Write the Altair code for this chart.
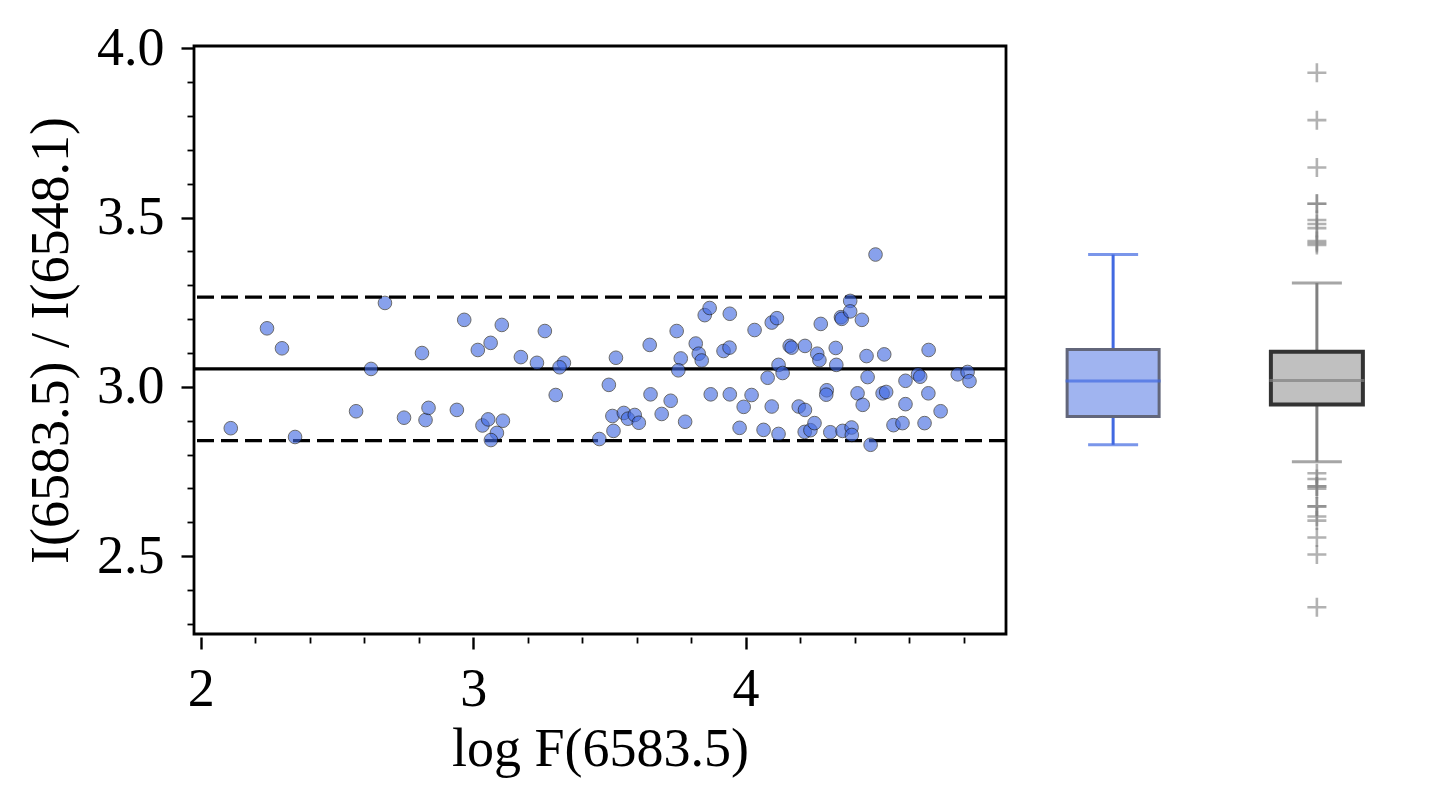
import altair as alt
import pandas as pd

# ---------------- data ----------------
log_flux = [
    2.110, 2.243, 2.298, 2.346, 2.570, 2.625, 2.676, 2.746, 2.812, 2.825, 2.836, 2.940, 2.967,
    3.017, 3.064, 3.105, 3.034, 3.055, 3.087, 3.065, 3.109, 3.175, 3.234, 3.263, 3.303, 3.333,
    3.317, 3.498, 3.524, 3.463, 3.511, 3.515, 3.553, 3.568, 3.593, 3.608, 3.648, 3.651, 3.692,
    3.725, 3.747, 3.762, 3.753, 3.778, 3.817, 3.828, 3.839, 3.850, 3.868, 3.872, 3.919, 3.941,
    3.942, 3.942,
    3.978, 3.993, 4.022, 4.033, 4.066, 4.081, 4.096, 4.096, 4.115, 4.121, 4.136, 4.121, 4.162,
    4.169, 4.195, 4.218, 4.218, 4.217, 4.238, 4.253, 4.263, 4.271, 4.276, 4.298, 4.296, 4.311,
    4.331, 4.333, 4.350, 4.353, 4.356, 4.384, 4.384, 4.389, 4.390, 4.411, 4.427, 4.430, 4.444,
    4.448, 4.459, 4.477, 4.503, 4.516, 4.509, 4.543, 4.576, 4.587, 4.587, 4.633, 4.641, 4.657,
    4.671, 4.672, 4.716, 4.779, 4.815, 4.822,
]
ratio = [
    2.878, 3.173, 3.114, 2.852, 2.928, 3.053, 3.248, 2.909, 3.100, 2.902, 2.938, 2.932, 3.198,
    3.109, 3.130, 3.183, 2.886, 2.904, 2.864, 2.843, 2.900, 3.088, 3.071, 3.165, 2.976, 3.071,
    3.058, 3.006, 3.086, 2.846, 2.914, 2.870, 2.923, 2.906, 2.917, 2.894, 3.124, 2.978, 2.920,
    2.959, 3.165, 3.084, 3.049, 2.897, 3.128, 3.098, 3.078, 3.212, 3.233, 2.978, 3.106, 3.116,
    3.216, 2.978,
    2.879, 2.941, 2.976, 3.168, 2.873, 3.027, 2.942, 3.190, 3.203, 3.065, 3.041, 2.861, 3.121,
    3.116, 2.942, 3.121, 2.932, 2.867, 2.872, 2.893, 3.098, 3.079, 3.186, 2.990, 2.977, 2.866,
    3.115, 3.065, 3.206, 3.201, 2.870, 3.254, 3.223, 2.880, 2.858, 2.981, 3.198, 2.947, 3.091,
    3.029, 2.829, 3.391, 2.981, 2.985, 3.096, 2.887, 2.893, 2.949, 3.018, 3.037, 3.030, 2.893,
    2.981, 3.109, 2.928, 3.037, 3.044, 3.017,
]

mean_ratio = [3.053]
band_ratio = [3.265, 2.841]

# second (grey) box plot: summary values and outliers
gray_stat_names = ["lo", "q1", "med", "q3", "hi"]
gray_stat_values = [2.779, 2.948, 3.019, 3.104, 3.307]
gray_outliers = [
    3.928, 3.788, 3.648, 3.541, 3.541, 3.493, 3.481, 3.469, 3.431, 3.425, 3.419,
    2.745, 2.728, 2.706, 2.706, 2.699, 2.647, 2.647, 2.617, 2.605, 2.555, 2.505, 2.349,
]

box_groups = ["blue", "gray"]

x_tick_values = [2.0, 2.2, 2.4, 2.6, 2.8, 3.0, 3.2, 3.4, 3.6, 3.8, 4.0, 4.2, 4.4, 4.6, 4.8]
y_tick_values = [2.3, 2.4, 2.5, 2.6, 2.7, 2.8, 2.9, 3.0, 3.1, 3.2, 3.3, 3.4, 3.5,
                 3.6, 3.7, 3.8, 3.9, 4.0]

X_DOMAIN = [1.975, 4.956]
Y_DOMAIN = [2.27, 4.007]

FONT = "Liberation Serif"
BLUE = "#4169E1"

# ---------------- main scatter panel ----------------
scatter_df = pd.DataFrame({"x": log_flux, "y": ratio})

x_major = "abs(datum.value - round(datum.value)) < 0.001"
y_major = "abs(datum.value * 2 - round(datum.value * 2)) < 0.001"

x_axis = alt.Axis(
    values=x_tick_values,
    title="log F(6583.5)",
    domain=False,
    grid=False,
    offset=3,
    labelExpr=f"{x_major} ? format(datum.value, 'd') : ''",
    labelOverlap=False,
    labelFlush=False,
    labelFont=FONT,
    labelFontSize=54,
    labelColor="black",
    labelPadding=13,
    tickColor="black",
    tickSize={"condition": {"test": x_major, "value": 12}, "value": 6},
    tickWidth={"condition": {"test": x_major, "value": 2.4}, "value": 1.8},
    titleFont=FONT,
    titleFontSize=54,
    titleFontWeight="normal",
    titleColor="black",
    titlePadding=6,
)
y_axis = alt.Axis(
    values=y_tick_values,
    title="I(6583.5) / I(6548.1)",
    domain=False,
    grid=False,
    labelExpr=f"{y_major} ? format(datum.value, '.1f') : ''",
    labelOverlap=False,
    labelFlush=False,
    labelFont=FONT,
    labelFontSize=54,
    labelColor="black",
    labelPadding=17,
    tickColor="black",
    tickSize={"condition": {"test": y_major, "value": 13}, "value": 7},
    tickWidth={"condition": {"test": y_major, "value": 2.4}, "value": 1.8},
    titleFont=FONT,
    titleFontSize=54,
    titleFontWeight="normal",
    titleColor="black",
    titlePadding=18,
)

x_scale = alt.Scale(domain=X_DOMAIN, nice=False, zero=False)
y_scale = alt.Scale(domain=Y_DOMAIN, nice=False, zero=False)

points = alt.Chart(scatter_df).mark_point(
    shape="circle", filled=True, fill=BLUE, stroke="#111111", strokeWidth=1.0,
    opacity=0.62, size=185,
).encode(
    x=alt.X("x:Q", scale=x_scale, axis=x_axis),
    y=alt.Y("y:Q", scale=y_scale, axis=y_axis),
)

solid_line = alt.Chart(pd.DataFrame({"y": mean_ratio})).mark_rule(
    color="black", strokeWidth=3.3
).encode(y=alt.Y("y:Q", scale=y_scale, axis=y_axis))

dashed_lines = alt.Chart(pd.DataFrame({"y": band_ratio})).mark_rule(
    color="black", strokeWidth=3.3, strokeDash=[17, 7]
).encode(y=alt.Y("y:Q", scale=y_scale, axis=y_axis))

main = alt.layer(solid_line, dashed_lines, points).properties(
    width=812, height=588,
    view=alt.ViewBackground(stroke="black", strokeWidth=2.8),
)

# ---------------- box plot panel ----------------
bx = alt.X("group:N", scale=alt.Scale(type="point", domain=box_groups, padding=0.457), axis=None)
by_scale = alt.Scale(domain=Y_DOMAIN, nice=False, zero=False)


def box_layers(base, fill, stroke, stroke_w, median_color, whisker_color):
    lower = base.mark_rule(color=whisker_color, strokeWidth=3).encode(
        x=bx, y=alt.Y("lo:Q", scale=by_scale, axis=None), y2="q1:Q")
    upper = base.mark_rule(color=whisker_color, strokeWidth=3).encode(
        x=bx, y=alt.Y("q3:Q", scale=by_scale, axis=None), y2="hi:Q")
    cap_lo = base.mark_tick(color=whisker_color, size=50, thickness=3, orient="horizontal").encode(
        x=bx, y=alt.Y("lo:Q", scale=by_scale, axis=None))
    cap_hi = base.mark_tick(color=whisker_color, size=50, thickness=3, orient="horizontal").encode(
        x=bx, y=alt.Y("hi:Q", scale=by_scale, axis=None))
    box = base.mark_bar(size=92, fill=fill, stroke=stroke, strokeWidth=stroke_w).encode(
        x=bx, y=alt.Y("q1:Q", scale=by_scale, axis=None), y2="q3:Q")
    med = base.mark_tick(color=median_color, size=95, thickness=3, orient="horizontal").encode(
        x=bx, y=alt.Y("med:Q", scale=by_scale, axis=None))
    return [lower, upper, cap_lo, cap_hi, box, med]


blue_base = alt.Chart(scatter_df).transform_aggregate(
    lo="min(y)", q1="q1(y)", med="median(y)", q3="q3(y)", hi="max(y)"
).transform_calculate(group="'blue'")

gray_df = pd.DataFrame({name: [val] for name, val in zip(gray_stat_names, gray_stat_values)})
gray_df["group"] = "gray"
gray_base = alt.Chart(gray_df)

outlier_df = pd.DataFrame({"y": gray_outliers, "group": "gray"})
outliers = alt.Chart(outlier_df).mark_point(
    shape="M-1,0L1,0M0,-1L0,1", filled=False, stroke="#808080", strokeWidth=2.6,
    opacity=0.6, size=361,
).encode(x=bx, y=alt.Y("y:Q", scale=by_scale, axis=None))

boxes = alt.layer(
    *box_layers(blue_base, "#A0B4F0", "#62667a", 3, BLUE, BLUE),
    *box_layers(gray_base, "#C0C0C0", "#333333", 4, "#808080", "#808080"),
    outliers,
).properties(
    width=390, height=588,
    view=alt.ViewBackground(strokeOpacity=0),
)

chart = alt.hconcat(main, boxes, spacing=10).properties(
    padding={"left": 15, "top": 11, "right": 10, "bottom": 10},
    background="white",
)

chart.save("out.html", embed_options={"renderer": "svg", "actions": False})
